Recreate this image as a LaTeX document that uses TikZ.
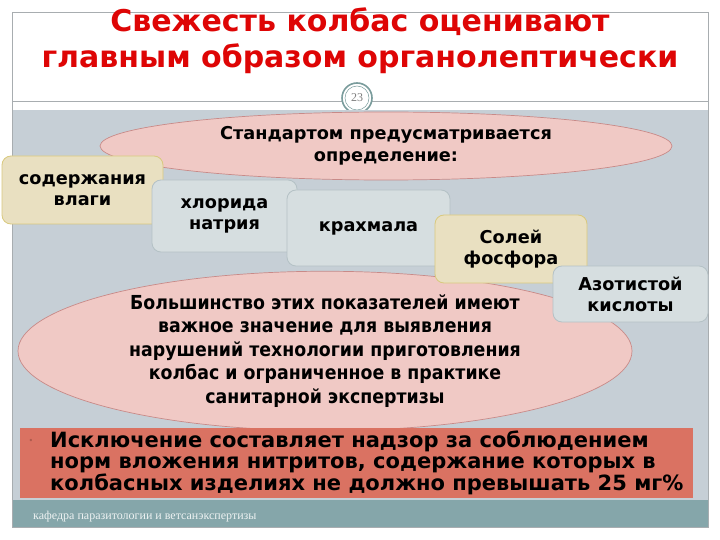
\documentclass[tikz,border=0pt]{standalone}
\usepackage{fontspec}
\setmainfont{DejaVu Sans}
\newfontfamily\condf[FakeStretch=0.9]{DejaVu Sans}
\newfontfamily\serf{Liberation Serif}
\usetikzlibrary{shapes.geometric}
\definecolor{titlered}{HTML}{DE0505}
\definecolor{panelbg}{HTML}{C6CFD6}
\definecolor{footbg}{HTML}{85A6AA}
\definecolor{pinkfill}{HTML}{F0C9C5}
\definecolor{pinkline}{HTML}{C88A88}
\definecolor{beigefill}{HTML}{E9E0C1}
\definecolor{beigeline}{HTML}{D9C97E}
\definecolor{lightfill}{HTML}{D6DEE0}
\definecolor{lightline}{HTML}{B4C1C5}
\definecolor{bandred}{HTML}{DA7262}
\definecolor{framegray}{HTML}{A8ADB0}
\definecolor{ringcol}{HTML}{7A9C9C}
\tikzset{
  ellbox/.style={ellipse, draw=pinkline, fill=pinkfill, line width=0.7pt, inner sep=0pt, align=center},
  boxbase/.style={rectangle, rounded corners=9pt, line width=0.8pt, inner sep=2pt, align=center,
    font=\bfseries\fontsize{17.7}{21}\selectfont},
  beigebox/.style={boxbase, draw=beigeline, fill=beigefill},
  lightbox/.style={boxbase, draw=lightline, fill=lightfill}
}
\begin{document}
\begin{tikzpicture}[x=1pt,y=-1pt]
\useasboundingbox (0,0) rectangle (720,540);
\fill[white] (0,0) rectangle (720,540);
% panel and footer
\fill[panelbg] (12,110) rectangle (708,500);
\fill[footbg] (12,500) rectangle (708,527);
\draw[framegray, line width=0.8pt] (12,12) rectangle (708,527);
\draw[framegray, line width=0.8pt] (12,101) -- (708,101);
% slide number
\node[circle, draw=ringcol, line width=1.6pt, fill=white, minimum size=30pt, inner sep=0pt] (num) at (357,98) {};
\node[circle, draw=ringcol, line width=0.5pt, minimum size=24pt, inner sep=0pt, font=\serf\fontsize{12}{12}\selectfont, text=gray] (numt) at (357,98) {23};
\fill[panelbg] (340,110) rectangle (375,114);
% title
\node[font=\bfseries\fontsize{30}{36}\selectfont, text=titlered, align=center] (title) at (360,41)
  {Свежесть колбас оценивают\\главным образом органолептически};
% ellipses
\node[ellbox, minimum width=572pt, minimum height=68pt, font=\bfseries\fontsize{17.7}{22}\selectfont] (std) at (386,146)
  {Стандартом предусматривается\\определение:};
\node[ellbox, minimum width=614pt, minimum height=135pt, font=\condf\bfseries\fontsize{19.3}{23.5}\selectfont] (most) at (325,351)
  {Большинство этих показателей имеют\\важное значение для выявления\\нарушений технологии приготовления\\колбас и ограниченное в практике\\санитарной экспертизы};
% boxes
\node[beigebox, minimum width=161pt, minimum height=68pt] (vlaga) at (82.5,190) {содержания\\влаги};
\node[lightbox, minimum width=145pt, minimum height=72pt] (nacl) at (224.5,216) {хлорида\\натрия};
\node[lightbox, minimum width=163pt, minimum height=76pt] (kraxm) at (368.5,228) {крахмала};
\node[beigebox, minimum width=152pt, minimum height=68pt] (fosf) at (511,249) {Солей\\фосфора};
\node[lightbox, minimum width=155pt, minimum height=56pt] (azot) at (630.5,294) {Азотистой\\кислоты};
% red band
\fill[bandred] (20,428) rectangle (693,498);
\node[anchor=center, text=bandred!80!black, font=\fontsize{8}{8}\selectfont] (bul) at (31,441) {•};
\node[anchor=north west, align=left, inner sep=0pt, font=\bfseries\fontsize{21}{21}\selectfont] (excl) at (50,431)
  {Исключение составляет надзор за соблюдением\\норм вложения нитритов, содержание которых в\\колбасных изделиях не должно превышать 25 мг\%};
% footer
\node[anchor=west, inner sep=0pt, text=white!85!footbg, font=\serf\fontsize{12}{13}\selectfont] (foot) at (33,517)
  {кафедра паразитологии и ветсанэкспертизы};
\end{tikzpicture}
\end{document}
